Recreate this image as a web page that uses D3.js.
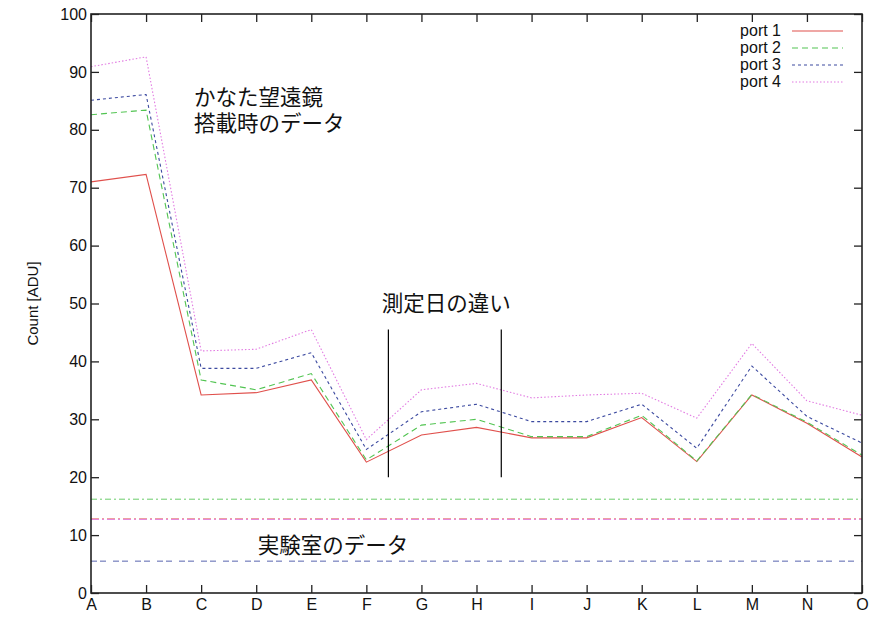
<!DOCTYPE html>
<html>
<head>
<meta charset="utf-8">
<script src="https://cdn.jsdelivr.net/npm/d3@7/dist/d3.min.js"></script>
<style>
  html, body { margin: 0; padding: 0; background: #fff; }
  svg { display: block; }
</style>
</head>
<body>
<svg id="chart" width="872" height="621"></svg>
<script>
// Measurement positions along the x axis
const categories = ["A","B","C","D","E","F","G","H","I","J","K","L","M","N","O"];

// Counts per port measured on the telescope
const port1 = [71.0, 72.3, 34.2, 34.6, 36.8, 22.6, 27.3, 28.6, 26.8, 26.8, 30.3, 22.7, 34.2, 29.3, 23.5];
const port2 = [82.6, 83.4, 36.8, 35.1, 37.9, 23.0, 29.0, 30.0, 27.0, 27.0, 30.7, 22.8, 34.3, 29.5, 23.8];
const port3 = [85.1, 86.1, 38.8, 38.8, 41.5, 24.8, 31.3, 32.6, 29.6, 29.6, 32.6, 25.0, 39.2, 30.5, 25.9];
const port4 = [90.9, 92.6, 41.8, 42.1, 45.5, 26.5, 35.1, 36.2, 33.7, 34.2, 34.5, 30.2, 43.1, 33.2, 30.7];

// Laboratory levels for each port (constant lines)
const labLevels = [12.8, 16.2, 5.5, 12.7];

const seriesNames = ["port 1", "port 2", "port 3", "port 4"];
const yTicks = [0, 10, 20, 30, 40, 50, 60, 70, 80, 90, 100];

// Boundaries between measurement dates (x position, from/to value)
const dateMarks = [5.4, 7.45];
const dateMarkRange = [20, 45.5];

// Styles per port
const colors = ["#e0504c", "#52c452", "#3c4aa0", "#e27be2"];
const dashes = [null, "6,4", "3,3", "1.5,2"];
const labDashes = ["8,3,2,3", "6,3,2,3", "6,3,6,7", "8,3,2,3"];

const svg = d3.select("#chart");
const plotLeft = 91, plotRight = 862, plotTop = 14, plotBottom = 593;

const x = d3.scaleLinear().domain([0, categories.length - 1]).range([plotLeft, plotRight]);
const y = d3.scaleLinear().domain([0, 100]).range([plotBottom, plotTop]);

const font = "'Liberation Sans', Arial, sans-serif";
const tickLen = 8;

// Lab constant lines
labLevels.forEach((v, i) => {
  svg.append("line")
    .attr("x1", x(0)).attr("x2", x(categories.length - 1))
    .attr("y1", y(v)).attr("y2", y(v))
    .attr("stroke", colors[i]).attr("stroke-width", 1)
    .attr("stroke-dasharray", labDashes[i])
    .attr("opacity", 0.85);
});

// Port series
const series = [port1, port2, port3, port4];
const line = d3.line().x((d, i) => x(i)).y(d => y(d));
series.forEach((vals, i) => {
  svg.append("path")
    .datum(vals)
    .attr("d", line)
    .attr("fill", "none")
    .attr("stroke", colors[i])
    .attr("stroke-width", 1.1)
    .attr("stroke-dasharray", dashes[i]);
});

// Date boundary markers
dateMarks.forEach(m => {
  svg.append("line")
    .attr("x1", x(m)).attr("x2", x(m))
    .attr("y1", y(dateMarkRange[0])).attr("y2", y(dateMarkRange[1]))
    .attr("stroke", "#000").attr("stroke-width", 1.2);
});

// Axes (gnuplot-style inward ticks with mirrors)
const axisG = svg.append("g");
const yAxisL = d3.axisLeft(y).tickValues(yTicks).tickSizeInner(-tickLen).tickSizeOuter(0).tickPadding(4);
const yAxisR = d3.axisRight(y).tickValues(yTicks).tickSizeInner(-tickLen).tickSizeOuter(0).tickFormat("");
const xAxisB = d3.axisBottom(x).tickValues(d3.range(categories.length)).tickFormat(i => categories[i])
  .tickSizeInner(-tickLen).tickSizeOuter(0).tickPadding(6);
const xAxisT = d3.axisTop(x).tickValues(d3.range(categories.length)).tickFormat("")
  .tickSizeInner(-tickLen).tickSizeOuter(0);

axisG.append("g").attr("transform", `translate(${plotLeft},0)`).call(yAxisL);
axisG.append("g").attr("transform", `translate(${plotRight},0)`).call(yAxisR);
axisG.append("g").attr("transform", `translate(0,${plotBottom})`).call(xAxisB);
axisG.append("g").attr("transform", `translate(0,${plotTop})`).call(xAxisT);

axisG.selectAll(".domain").remove();
axisG.selectAll(".tick line").attr("stroke", "#222").attr("stroke-width", 1.3);
axisG.selectAll(".tick text").attr("font-family", font).attr("font-size", 16).attr("fill", "#111");

// Frame
svg.append("rect")
  .attr("x", plotLeft).attr("y", plotTop)
  .attr("width", plotRight - plotLeft).attr("height", plotBottom - plotTop)
  .attr("fill", "none").attr("stroke", "#222").attr("stroke-width", 1.6);

// Y axis title
svg.append("text")
  .attr("transform", `translate(38,${(plotTop + plotBottom) / 2}) rotate(-90)`)
  .attr("text-anchor", "middle")
  .attr("font-family", font)
  .attr("font-size", 15)
  .attr("fill", "#111")
  .text("Count [ADU]");

// Legend
const legend = svg.append("g");
seriesNames.forEach((name, i) => {
  const ly = 31 + i * 17;
  legend.append("text")
    .attr("x", 781).attr("y", ly + 5)
    .attr("text-anchor", "end")
    .attr("font-family", font).attr("font-size", 16).attr("fill", "#111")
    .text(name);
  legend.append("line")
    .attr("x1", 792).attr("x2", 843)
    .attr("y1", ly).attr("y2", ly)
    .attr("stroke", colors[i]).attr("stroke-width", 1.1)
    .attr("stroke-dasharray", dashes[i]);
});

// Annotations
const cjk = "'Noto Sans CJK JP', sans-serif";
const notes = [
  { lines: ["かなた望遠鏡", "搭載時のデータ"], xi: 1.87, v: 84.2 },
  { lines: ["測定日の違い"], xi: 5.28, v: 48.7 },
  { lines: ["実験室のデータ"], xi: 3.03, v: 6.9 }
];
notes.forEach(n => {
  const t = svg.append("text")
    .attr("x", x(n.xi)).attr("y", y(n.v))
    .attr("font-family", cjk).attr("font-size", 21.5)
    .attr("fill", "#111");
  n.lines.forEach((s, k) => {
    t.append("tspan")
      .attr("x", x(n.xi))
      .attr("dy", k === 0 ? 0 : 26)
      .text(s);
  });
});
</script>
</body>
</html>
